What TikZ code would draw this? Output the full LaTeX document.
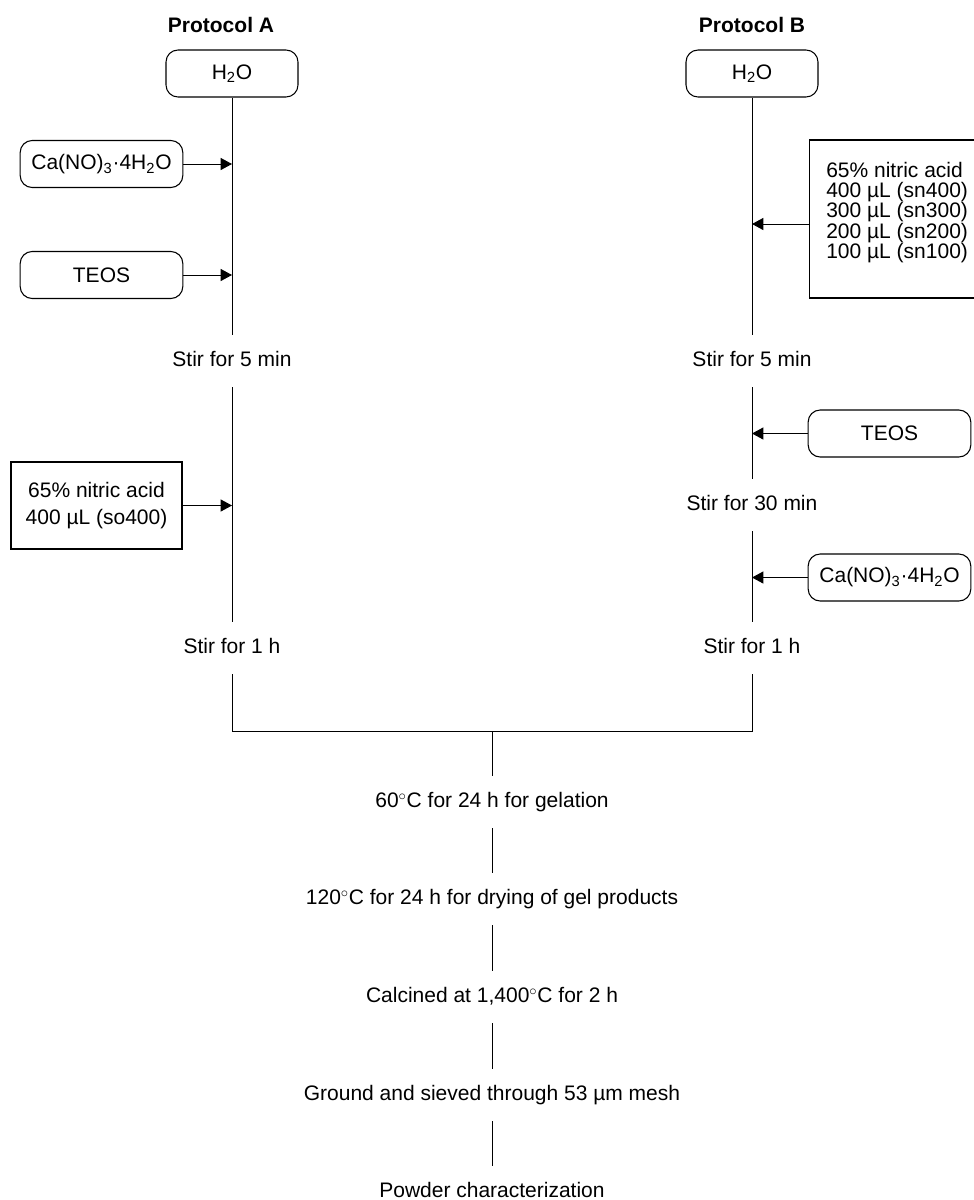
\documentclass[tikz,border=0pt]{standalone}
\usepackage{fontspec}
\setmainfont{Liberation Sans}
\usetikzlibrary{arrows.meta,positioning,calc}

\begin{document}
\begin{tikzpicture}[x=0.75pt,y=-0.75pt,
    every node/.style={font=\fontsize{15.75pt}{18pt}\selectfont},
    reagent/.style={draw,rounded corners=9pt,line width=0.8pt,minimum width=122pt,minimum height=35.25pt,inner sep=0pt},
    water/.style={reagent,minimum width=99pt},
    acidbox/.style={draw,line width=0.8pt,inner sep=0pt},
    stage/.style={inner sep=0pt,minimum height=39pt,text height=11.5pt,text depth=3.5pt},
    flow/.style={line width=0.75pt},
    feed/.style={line width=0.75pt,-{Triangle[length=8.5pt,width=9pt]}}]
    \useasboundingbox (0,0) rectangle (974,1200);

    % Protocol titles
    \node[font=\fontsize{15.75pt}{18pt}\selectfont\bfseries] (titleA) at (221,25) {Protocol A};
    \node[font=\fontsize{15.75pt}{18pt}\selectfont\bfseries] (titleB) at (752,25) {Protocol B};

    % Protocol A
    \node[water] (waterA) at (232,73.5) {H\textsubscript{2}O};
    \node[reagent] (calcA) at (101.5,164) {Ca(NO)\textsubscript{3}·4H\textsubscript{2}O};
    \node[reagent] (teosA) at (101.5,275) {TEOS};
    \node[stage] (stirfiveA) at (232,361) {Stir for 5 min};
    \node[acidbox,minimum width=128.25pt,minimum height=65.25pt,align=center,
          font=\fontsize{15.75pt}{20pt}\selectfont] (acidA) at (96.5,505.5) {65\% nitric acid\\400 µL (so400)};
    \node[stage] (stironeA) at (232,648) {Stir for 1 h};

    \draw[flow] (waterA) -- (stirfiveA.north);
    \draw[flow] (stirfiveA.south) -- (stironeA.north);
    \draw[feed] (calcA.east) -- (calcA.east -| waterA);
    \draw[feed] (teosA.east) -- (teosA.east -| waterA);
    \draw[feed] (acidA.east) -- (acidA.east -| waterA);

    % Protocol B
    \node[water] (waterB) at (752,73.5) {H\textsubscript{2}O};
    \node[acidbox,anchor=west,minimum width=135pt,minimum height=118.5pt] (acidB) at (809,219) {};
    \node[anchor=west,inner sep=0pt,align=left,font=\fontsize{15.75pt}{15.2pt}\selectfont] (acidBtext)
          at ([xshift=12.75pt,yshift=5pt]acidB.west)
          {65\% nitric acid\\400 µL (sn400)\\300 µL (sn300)\\200 µL (sn200)\\100 µL (sn100)};
    \node[stage] (stirfiveB) at (752,361) {Stir for 5 min};
    \node[reagent] (teosB) at (889.5,433.5) {TEOS};
    \node[stage] (stirthirtyB) at (752,505) {Stir for 30 min};
    \node[reagent] (calcB) at (889.5,577.5) {Ca(NO)\textsubscript{3}·4H\textsubscript{2}O};
    \node[stage] (stironeB) at (752,648) {Stir for 1 h};

    \draw[flow] (waterB) -- (stirfiveB.north);
    \draw[flow] (stirfiveB.south) -- (stirthirtyB.north);
    \draw[flow] (stirthirtyB.south) -- (stironeB.north);
    \draw[feed] ([yshift=-3.75pt]acidB.west) -- ([yshift=-3.75pt]acidB.west -| waterB);
    \draw[feed] (teosB.west) -- (teosB.west -| waterB);
    \draw[feed] (calcB.west) -- (calcB.west -| waterB);

    % Common steps
    \coordinate (mix) at (492,731);
    \node[stage] (gel) at (492,802) {60$^\circ$C for 24 h for gelation};
    \node[stage] (dry) at (492,899) {120$^\circ$C for 24 h for drying of gel products};
    \node[stage] (calcine) at (492,997) {Calcined at 1,400$^\circ$C for 2 h};
    \node[stage] (sieve) at (492,1095) {Ground and sieved through 53 µm mesh};
    \node[stage] (powder) at (492,1192) {Powder characterization};

    \draw[flow] (stironeA.south) |- (mix) -| (stironeB.south);
    \draw[flow] (mix) -- (gel.north);
    \draw[flow] (gel.south) -- (dry.north);
    \draw[flow] (dry.south) -- (calcine.north);
    \draw[flow] (calcine.south) -- (sieve.north);
    \draw[flow] (sieve.south) -- (powder.north);
\end{tikzpicture}
\end{document}
